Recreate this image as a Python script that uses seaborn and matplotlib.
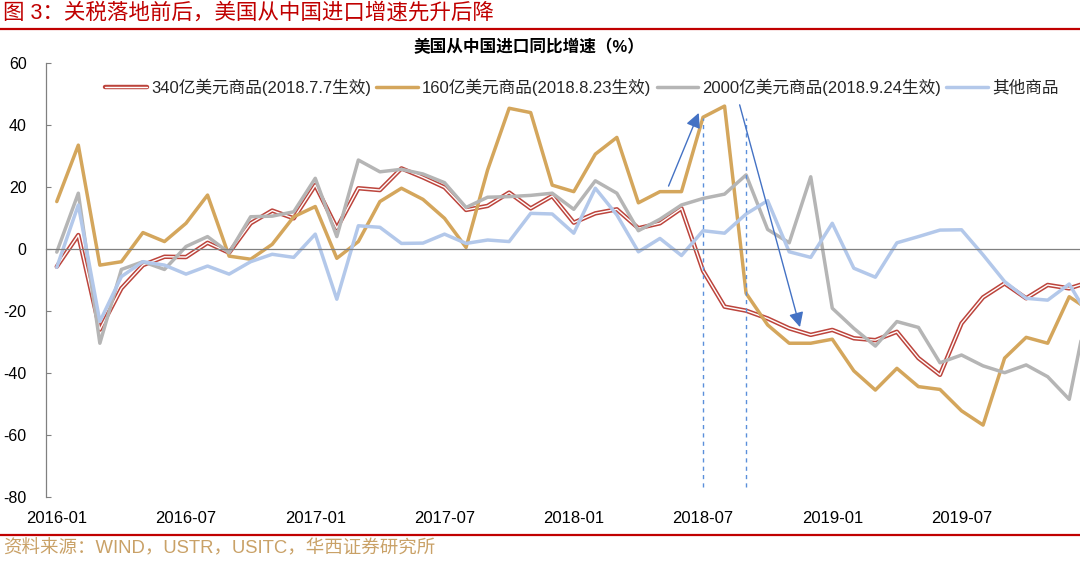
"""US imports from China, YoY growth by tariff list (2016-01 to 2020-01)."""
import matplotlib
matplotlib.use("Agg")
import matplotlib.pyplot as plt
import matplotlib.patheffects as pe
from matplotlib.lines import Line2D
import numpy as np
import pandas as pd
import seaborn as sns

months = pd.date_range("2016-01", periods=49, freq="MS").strftime("%Y-%m").tolist()

list_340 = [-5.7, 4.5, -26.0, -12.7, -5.2, -2.5, -2.6, 2.0, -1.2, 8.3, 12.4, 9.9,
            20.6, 6.7, 19.6, 19.0, 26.0, 23.1, 19.9, 12.6, 13.9, 18.2, 13.1, 17.1,
            8.5, 11.5, 12.8, 6.7, 8.3, 13.1, -7.0, -18.6, -19.9, -22.4, -25.6, -27.7,
            -26.1, -28.8, -29.4, -26.7, -35.2, -40.6, -24.0, -15.6, -11.1, -15.9, -11.6, -12.7,
            -10.5]
list_160 = [15.3, 33.5, -5.2, -4.1, 5.3, 2.4, 8.3, 17.4, -2.3, -3.3, 1.5, 10.4,
            13.7, -3.0, 2.4, 15.3, 19.6, 16.0, 9.9, 0.5, 25.5, 45.4, 44.0, 20.6,
            18.5, 30.6, 36.0, 14.9, 18.5, 18.5, 42.5, 46.1, -14.3, -24.5, -30.4, -30.4,
            -29.1, -39.3, -45.5, -38.5, -44.4, -45.3, -52.2, -56.8, -35.2, -28.5, -30.4, -15.4,
            -20.0]
list_2000 = [-1.0, 18.0, -30.4, -6.6, -4.1, -6.6, 0.8, 4.0, -1.2, 10.4, 10.6, 12.0,
             22.8, 4.0, 28.7, 24.9, 25.7, 24.2, 21.4, 13.4, 16.7, 16.9, 17.3, 18.0,
             12.8, 22.0, 18.0, 5.9, 9.6, 14.2, 16.3, 17.7, 23.9, 6.3, 2.0, 23.3,
             -19.1, -25.6, -31.3, -23.4, -25.3, -36.7, -34.2, -37.7, -39.9, -37.4, -41.2, -48.5,
             -14.0]
others = [-5.9, 14.2, -23.4, -8.9, -4.1, -5.2, -8.1, -5.5, -8.1, -4.1, -1.7, -2.7,
          4.8, -16.2, 7.5, 7.0, 1.8, 1.9, 4.8, 1.8, 2.9, 2.4, 11.5, 11.3,
          5.1, 19.6, 11.0, -0.9, 3.4, -2.1, 5.9, 5.1, 11.3, 15.6, -0.9, -2.7,
          8.3, -6.2, -9.1, 2.0, 4.0, 6.1, 6.2, -1.9, -10.5, -15.9, -16.5, -11.3,
          -23.0]

series_names = ["340亿美元商品(2018.7.7生效)", "160亿美元商品(2018.8.23生效)",
                "2000亿美元商品(2018.9.24生效)", "其他商品"]
tariff_months = ["2018-07", "2018-09"]
# arrows: (start month index, start value) -> (end month index, end value)
arrow_up = ((28.4, 20.3), (29.8, 43.9))
arrow_down = ((31.7, 46.5), (34.5, -25.2))

df = pd.DataFrame({
    "idx": np.arange(len(months)),
    series_names[0]: list_340,
    series_names[1]: list_160,
    series_names[2]: list_2000,
    series_names[3]: others,
})

sns.set_theme(style="white")
plt.rcParams["font.family"] = ["Liberation Sans", "Noto Sans CJK SC"]
plt.rcParams["axes.unicode_minus"] = False

fig = plt.figure(figsize=(10.8, 5.61), dpi=100)
ax = fig.add_axes([46 / 1080, 64 / 561, 1034 / 1080, 434 / 561])

red_fx = [pe.Stroke(linewidth=3.2, foreground="#BC443C"), pe.Normal()]
sns.lineplot(data=df, x="idx", y=series_names[0], ax=ax, color="white", lw=1.0,
             path_effects=red_fx, label=series_names[0])
sns.lineplot(data=df, x="idx", y=series_names[1], ax=ax, color="#D4A65C", lw=2.5,
             label=series_names[1])
sns.lineplot(data=df, x="idx", y=series_names[2], ax=ax, color="#B5B5B5", lw=2.5,
             label=series_names[2])
sns.lineplot(data=df, x="idx", y=series_names[3], ax=ax, color="#B3C8EA", lw=2.5,
             label=series_names[3])

# tariff dates and arrows
for m in tariff_months:
    ax.vlines(months.index(m), -76.8, 42.3, color="#5B8FDB", lw=1.0,
              linestyles=(0, (3, 3)))
for (x0, y0), (x1, y1) in (arrow_up, arrow_down):
    ax.annotate("", xy=(x1, y1), xytext=(x0, y0),
                arrowprops=dict(arrowstyle="-|>", color="#4472C4", lw=1.0,
                                mutation_scale=22, shrinkA=0, shrinkB=0))

ax.set_xlim(-0.5, 47.5)
ax.set_ylim(-80, 60)
ax.set_yticks(range(-80, 61, 20))
ax.set_xlabel("")
ax.set_ylabel("")
ax.grid(False)

axis_gray = "#808080"
for s in ("top", "right"):
    ax.spines[s].set_visible(False)
ax.spines["left"].set_color(axis_gray)
ax.spines["left"].set_linewidth(0.9)
ax.spines["bottom"].set_position(("data", 0))
ax.spines["bottom"].set_color(axis_gray)
ax.spines["bottom"].set_linewidth(0.9)

ax.set_xticks([])
ax.set_xticks(np.arange(5.5, 48, 6), minor=True)
ax.tick_params(axis="x", which="minor", direction="in", length=3.6, width=0.8,
               color=axis_gray, labelbottom=False)
ax.tick_params(axis="y", direction="in", length=3.6, width=0.8, color=axis_gray,
               pad=14, labelsize=11.5, labelcolor="black", left=True)

sec = ax.secondary_xaxis("bottom")
sec.set_xticks(range(0, 48, 6), [months[i] for i in range(0, 48, 6)])
sec.spines["bottom"].set_visible(False)
sec.tick_params(length=0, pad=10, labelsize=12, labelcolor="black")

ax.legend(loc="center", bbox_to_anchor=(582 / 1080, 1 - 87 / 561),
          bbox_transform=fig.transFigure, ncol=4, frameon=False, fontsize=12,
          handlelength=2.5, handletextpad=0.25, columnspacing=0.3,
          borderaxespad=0)

fig.text(529 / 1080, 1 - 47 / 561, "美国从中国进口同比增速（%）", ha="center",
         va="center", fontsize=12, fontweight="bold", color="black")
fig.text(0.003, 1 - 13 / 561, "图 3：关税落地前后，美国从中国进口增速先升后降",
         ha="left", va="center", fontsize=15.5, color="#C00000")
fig.add_artist(Line2D([0, 1], [1 - 29 / 561] * 2, transform=fig.transFigure,
                      color="#C00000", lw=1.6))
fig.add_artist(Line2D([0, 1], [1 - 535 / 561] * 2, transform=fig.transFigure,
                      color="#C00000", lw=1.6))
fig.text(0.003, 1 - 549 / 561, "资料来源：WIND，USTR，USITC，华西证券研究所",
         ha="left", va="center", fontsize=13.3, color="#C9A167")

fig.savefig("out.png", dpi=100)
